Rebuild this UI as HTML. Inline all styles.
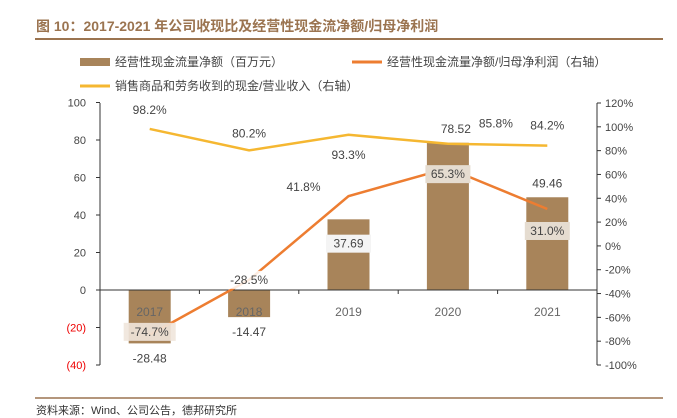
<!DOCTYPE html>
<html><head><meta charset="utf-8">
<style>
body{margin:0;background:#fff;font-family:"Liberation Sans","Noto Sans CJK SC",sans-serif;}
#wrap{position:relative;width:677px;height:418px;overflow:hidden;}
</style></head>
<body>
<div id="wrap">
<svg id="chart" width="677" height="418" xmlns="http://www.w3.org/2000/svg" font-family="Liberation Sans, Noto Sans CJK SC, sans-serif">
<text x="36" y="31" font-size="14" font-weight="bold" fill="#9b7450">图 10：2017-2021 年公司收现比及经营性现金流净额/归母净利润</text>
<line x1="35" y1="39" x2="663" y2="39" stroke="#9b7450" stroke-width="2"/>
<g>
<rect x="80" y="58" width="30" height="8" fill="#a8845a"/>
<text x="115" y="66" font-size="12" fill="#444">经营性现金流量净额（百万元）</text>
<line x1="352" y1="62" x2="382" y2="62" stroke="#ed7d31" stroke-width="3"/>
<text x="387" y="66" font-size="12" fill="#444">经营性现金流量净额/归母净利润（右轴）</text>
<line x1="80" y1="86" x2="110" y2="86" stroke="#f5b731" stroke-width="3"/>
<text x="115" y="90" font-size="12" fill="#444">销售商品和劳务收到的现金/营业收入（右轴）</text>
</g>
<g id="plot"></g>
<line x1="35" y1="398" x2="663" y2="398" stroke="#9b7450" stroke-width="1.5"/>
<text x="36" y="414" font-size="11" fill="#333">资料来源：Wind、公司公告，德邦研究所</text>
</svg>
</div>
<script>
const categories=["2017","2018","2019","2020","2021"];
const cashFlow=[-28.48,-14.47,37.69,78.52,49.46];
const cfToProfit=[-74.7,-28.5,41.8,65.3,31.0];
const cashToRevenue=[98.2,80.2,93.3,85.8,84.2];
const leftTicks=[100,80,60,40,20,0,-20,-40];
const rightTicks=[120,100,80,60,40,20,0,-20,-40,-60,-80,-100];

const NS="http://www.w3.org/2000/svg";
const g=document.getElementById('plot');
const L=100,R=597,T=103,B=365;
const yL=v=>290+(0-v)*(B-290)/40;
const yR=v=>T+(120-v)*(B-T)/220;
const x=i=>L+ (R-L)/5*(i+0.5);
function mk(tag,attrs,parent){const e=document.createElementNS(NS,tag);for(const k in attrs)e.setAttribute(k,attrs[k]);(parent||g).appendChild(e);return e;}
function txt(s,xx,yy,anchor,color,size){const t=mk('text',{x:xx,y:yy,'text-anchor':anchor,fill:color,'font-size':size||11});t.textContent=s;return t;}

let a=mk('line',{x1:L,y1:T,x2:L,y2:B,stroke:'#333'});

a=mk('line',{x1:R,y1:T,x2:R,y2:B,stroke:'#333'});

leftTicks.forEach(v=>{
  mk('line',{x1:L-4,y1:yL(v),x2:L,y2:yL(v),stroke:'#333'});
  const t=txt(v<0?'('+(-v)+')':String(v),L-14,yL(v)+4,'end',v<0?'#e00':'#444');
  
});
rightTicks.forEach(v=>{
  mk('line',{x1:R,y1:yR(v),x2:R+4,y2:yR(v),stroke:'#333'});
  const t=txt(v+'%',R+8,yR(v)+4,'start','#444');
  
});
const bw=42;
cashFlow.forEach((v,i)=>{
  const y0=yL(0),y1=yL(v);
  const r=mk('rect',{x:x(i)-bw/2,y:Math.min(y0,y1),width:bw,height:Math.abs(y1-y0),fill:'#a8845a'});
  
  
});
a=mk('line',{x1:L,y1:yL(0),x2:R,y2:yL(0),stroke:'#333'});

for(let i=0;i<=5;i++)mk('line',{x1:L+(R-L)/5*i,y1:yL(0),x2:L+(R-L)/5*i,y2:yL(0)+4,stroke:'#333'});
categories.forEach((c,i)=>{const t=txt(c,x(i),yL(0)+26,'middle','#666',12);
  });
function line(vals,color,name){
  const p=mk('polyline',{points:vals.map((v,i)=>x(i)+','+yR(v)).join(' '),fill:'none',stroke:color,'stroke-width':2.5});
  
}
line(cashToRevenue,'#f5b731','line-cash-to-revenue');
line(cfToProfit,'#ed7d31','line-cf-to-profit');
function label(s,xx,yy,box){
  if(box){const w=s.length*7+10;mk('rect',{x:xx-w/2,y:yy-13,width:w,height:18,fill:box});}
  const t=txt(s,xx,yy,'middle','#444',12);
  
}
const yOff=[-15,-13,24,-16,-16];
const yDx=[0,0,0,48,0];
cashToRevenue.forEach((v,i)=>label(v.toFixed(1)+'%',x(i)+yDx[i],yR(v)+yOff[i]));
const oDx=[0,0,-45,0,0],oDy=[-3,0,-9,6,22];
const oBox=['rgba(240,230,220,0.9)','rgba(255,255,255,0.85)',null,'#e5dcd0','#e5dcd0'];
cfToProfit.forEach((v,i)=>label(v.toFixed(1)+'%',x(i)+oDx[i],yR(v)+oDy[i]+4,oBox[i]));
const bBox=[null,null,'#f4f4f4',null,null];
const bDx=[0,0,0,8,0];
cashFlow.forEach((v,i)=>{
  let yy=v<0?yL(v)+19:(i==2?yL(v)/2+yL(0)/2-7:yL(v)-10);
  label(v.toFixed(2),x(i)+bDx[i],yy,bBox[i]);
});
</script>
</body></html>
